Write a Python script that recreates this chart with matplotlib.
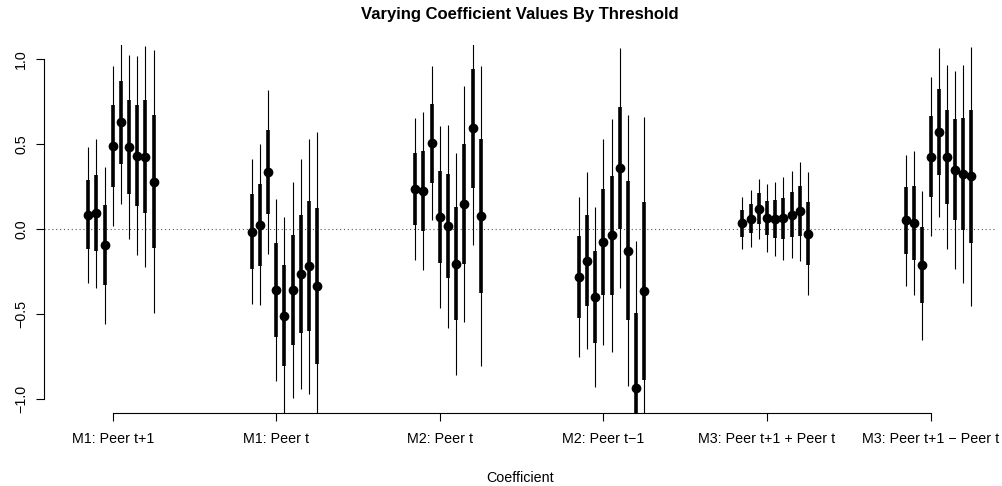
import numpy as np
import matplotlib.pyplot as plt

plt.rcParams['font.family'] = ['Liberation Sans', 'DejaVu Sans']

# coefficient names (x axis)
coefs = ['M1: Peer t+1', 'M1: Peer t', 'M2: Peer t', 'M2: Peer t\u22121',
         'M3: Peer t+1 + Peer t', 'M3: Peer t+1 \u2212 Peer t']

# estimates for 9 thresholds per coefficient
est_m1_lead = [0.084, 0.094, -0.094, 0.49, 0.627, 0.484, 0.433, 0.427, 0.28]
est_m1_cur = [-0.014, 0.027, 0.335, -0.357, -0.508, -0.357, -0.263, -0.218, -0.333]
est_m2_cur = [0.235, 0.224, 0.504, 0.072, 0.018, -0.204, 0.147, 0.592, 0.078]
est_m2_lag = [-0.282, -0.185, -0.40, -0.075, -0.037, 0.36, -0.126, -0.935, -0.365]
est_m3_sum = [0.035, 0.061, 0.121, 0.066, 0.061, 0.063, 0.086, 0.106, -0.026]
est_m3_diff = [0.053, 0.037, -0.212, 0.427, 0.57, 0.423, 0.349, 0.325, 0.31]

# standard errors
se_m1_lead = [0.203, 0.223, 0.235, 0.24, 0.244, 0.276, 0.299, 0.332, 0.393]
se_m1_cur = [0.218, 0.241, 0.246, 0.274, 0.296, 0.323, 0.345, 0.382, 0.46]
se_m2_cur = [0.213, 0.237, 0.231, 0.272, 0.304, 0.332, 0.354, 0.348, 0.45]
se_m2_lag = [0.24, 0.266, 0.27, 0.309, 0.35, 0.359, 0.407, 0.442, 0.523]
se_m3_sum = [0.078, 0.085, 0.09, 0.101, 0.11, 0.123, 0.131, 0.148, 0.184]
se_m3_diff = [0.196, 0.217, 0.224, 0.237, 0.253, 0.275, 0.296, 0.327, 0.389]

estimates = [est_m1_lead, est_m1_cur, est_m2_cur, est_m2_lag, est_m3_sum, est_m3_diff]
ses = [se_m1_lead, se_m1_cur, se_m2_cur, se_m2_lag, se_m3_sum, se_m3_diff]

fig = plt.figure(figsize=(10.03, 4.86), dpi=100)
ax = fig.add_axes([44/1003, (486-413)/486, (996-44)/1003, (413-45.4)/486])

# offsets of the thresholds around each coefficient position
offsets = -0.15 + 0.05*np.arange(9)

ax.axhline(0, color='0.35', linestyle=(0, (1, 2.5)), linewidth=0.8, zorder=1)

for i, (est, se) in enumerate(zip(estimates, ses)):
    est = np.array(est)
    se = np.array(se)
    xs = i + 1 + offsets
    ax.vlines(xs, est - 1.96*se, est + 1.96*se, color='black', linewidth=0.8)
    ax.vlines(xs, est - se, est + se, color='black', linewidth=2.6)
    ax.plot(xs, est, 'o', color='black', markersize=6.0)

ax.set_xlim(0.58, 6.40)
ax.set_ylim(-1.08, 1.08)

# R style axes
for s in ['top', 'right']:
    ax.spines[s].set_visible(False)
ax.spines['left'].set_bounds(-1, 1)
ax.spines['bottom'].set_bounds(1, 6)
ax.spines['left'].set_linewidth(0.8)
ax.spines['bottom'].set_linewidth(0.8)

ax.set_xticks(np.arange(1, 7))
ax.set_xticklabels(coefs, fontsize=10.3)
ax.set_yticks([-1, -0.5, 0, 0.5, 1])
ax.set_yticklabels(['\u22121.0', '\u22120.5', '0.0', '0.5', '1.0'], fontsize=10.3,
                   rotation=90, va='center')
ax.tick_params(direction='out', length=5.5, width=0.8, pad=8)
ax.tick_params(axis='y', pad=6)

ax.set_xlabel('Coefficient', fontsize=10.3, labelpad=18)
fig.text(0.5185, 0.986, 'Varying Coefficient Values By Threshold', fontsize=12,
         fontweight='bold', ha='center', va='top')

fig.savefig('out.png', dpi=100)
